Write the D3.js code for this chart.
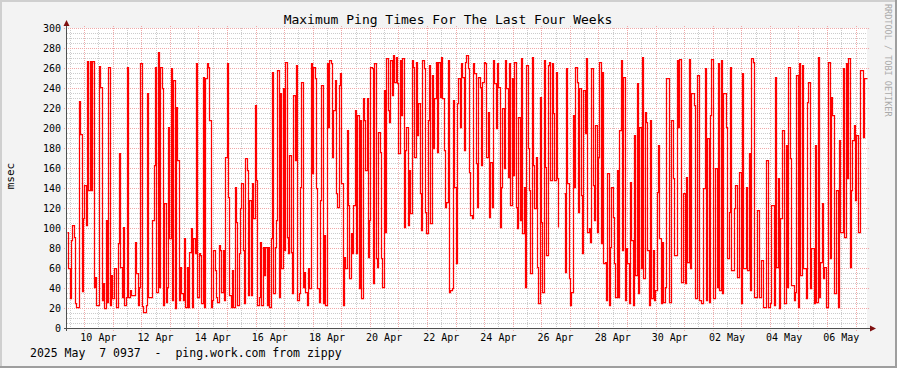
<!DOCTYPE html>
<html><head><meta charset="utf-8">
<script src="https://cdn.jsdelivr.net/npm/d3@7/dist/d3.min.js"></script>
<style>
html,body{margin:0;padding:0;background:#f3f3f3;}
svg{display:block;}
text{font-family:"DejaVu Sans Mono",monospace;}
</style></head><body>
<svg id="chart" width="897" height="368"></svg>
<script>
// ---- text ----
const chartTitle = "Maximum Ping Times For The Last Four Weeks";
const yAxisLabel = "msec";
const footerText = "2025 May  7 0937  -  ping.work.com from zippy";
const creditText = "RRDTOOL / TOBI OETIKER";

// ---- time range ----
const startTime = "2025-04-09T09:37:00Z";
const endTime   = "2025-05-07T09:37:00Z";

// ---- axis ticks ----
const yTickValues = [0,20,40,60,80,100,120,140,160,180,200,220,240,260,280,300];
const xTickDates  = ["2025-04-10","2025-04-12","2025-04-14","2025-04-16","2025-04-18","2025-04-20","2025-04-22",
                     "2025-04-24","2025-04-26","2025-04-28","2025-04-30","2025-05-02","2025-05-04","2025-05-06"];
const xTickLabels = ["10 Apr","12 Apr","14 Apr","16 Apr","18 Apr","20 Apr","22 Apr",
                     "24 Apr","26 Apr","28 Apr","30 Apr","02 May","04 May","06 May"];

// ---- series: maximum ping (msec), consecutive samples, in chronological blocks ----
const pingApr09to12 = [96,60,30,88,103,91,25,21,21,227,194,37,110,143,103,267,138,267,138,267,41,51,23,23,262,241,28,45,20,108,26,261,23,53,30,60,60,21,85,175,61,31,101,23,31,261,31,38,33,33,33,86,55,23,41,265,22,16,16,23,235,31,31,31,108,163,261,36,276,41,261,240,23,125,26];
const pingApr12to16 = [41,201,90,260,28,248,20,221,168,28,61,35,28,90,21,61,21,76,100,21,90,75,265,31,75,73,25,251,21,250,265,261,208,21,28,78,58,31,26,83,78,36,78,28,171,265,131,33,21,58,21,141,106,23,75,120,145,78,25,170,158,33,128,33,145,110,223,148,23,31,86,23,81,53,81];
const pingApr16to19 = [23,81,21,90,256,35,81,108,258,31,235,60,240,78,266,91,75,173,76,35,233,168,263,28,35,141,246,41,56,36,23,60,40,265,155,261,250,140,40,26,128,243,25,93,23,265,201,268,265,171,218,248,135,121,243,255,145,23,71,60,198,123,50,95,75,123,218,75,213,40,208,30,230,208,158];
const pingApr19to23 = [230,71,108,261,260,45,265,70,61,196,176,70,41,238,96,270,218,206,268,233,273,246,271,245,175,268,213,270,101,178,201,103,158,115,268,261,171,266,193,225,135,98,268,260,116,95,208,263,105,253,180,230,266,176,266,231,271,230,178,121,126,268,36,38,40,228,141,65,225,250,201,265,251,178,266];
const pingApr23to26 = [273,260,156,113,110,265,255,165,121,251,241,163,246,266,265,171,216,111,166,121,268,245,200,265,241,101,141,220,160,268,240,151,265,123,250,153,266,121,100,211,108,270,95,141,41,263,180,138,55,271,163,120,171,61,25,231,106,36,268,161,73,263,266,148,265,215,148,256,150,101,null,null,null,135,56];
const pingApr26to30 = [260,145,50,23,36,213,141,261,246,116,240,133,75,238,195,270,96,100,86,260,143,108,203,96,171,266,85,256,65,66,28,155,23,81,141,111,65,31,158,31,198,268,78,251,28,80,65,25,146,88,23,193,53,245,35,201,60,271,50,216,206,78,23,208,30,78,28,38,136,183,90,25,86,26,41];
const pingApr30toMay03 = [250,250,26,26,208,150,73,73,268,201,269,46,46,135,45,151,66,269,60,235,235,223,30,253,253,28,25,25,140,260,28,190,26,213,269,30,30,160,41,265,38,268,35,235,235,201,70,116,261,58,58,120,143,51,51,156,25,255,60,60,141,58,175,38,270,266,31,31,118,118,31,68,68,21,21];
const pingMay03to07 = [168,168,21,25,123,123,23,251,61,150,20,110,198,198,25,183,41,261,170,43,43,28,36,253,21,265,53,263,60,60,30,226,246,40,80,80,25,183,26,271,31,66,125,50,61,21,21,266,70,231,213,35,35,138,21,188,96,96,260,91,265,150,270,61,138,188,203,128,193,96,96,258,258,191,250,250];

const pingValues = [].concat(pingApr09to12, pingApr12to16, pingApr16to19, pingApr19to23,
                             pingApr23to26, pingApr26to30, pingApr30toMay03, pingMay03to07);

// ---- layout ----
const W = 897, H = 368;
const plot = {left: 67, right: 867, top: 28, bottom: 328};

const svg = d3.select("#chart");
const t0 = new Date(startTime), t1 = new Date(endTime);
const x = d3.scaleUtc().domain([t0, t1]).range([plot.left, plot.right]);
const y = d3.scaleLinear().domain([0, 300]).range([plot.bottom, plot.top]);

// background + 3D shade
svg.append("rect").attr("width", W).attr("height", H).attr("fill", "#f3f3f3");
svg.append("rect").attr("x",0).attr("y",0).attr("width",W).attr("height",2).attr("fill","#cfcfcf");
svg.append("rect").attr("x",0).attr("y",0).attr("width",2).attr("height",H).attr("fill","#cfcfcf");
svg.append("rect").attr("x",0).attr("y",H-2).attr("width",W).attr("height",2).attr("fill","#9e9e9e");
svg.append("rect").attr("x",W-2).attr("y",0).attr("width",2).attr("height",H).attr("fill","#9e9e9e");

// canvas
svg.append("rect").attr("x", plot.left).attr("y", plot.top)
   .attr("width", plot.right - plot.left).attr("height", plot.bottom - plot.top).attr("fill", "#ffffff");

const grid = svg.append("g").attr("shape-rendering", "crispEdges");
// minor horizontal grid every 5 msec
const minorY = d3.range(0, 301, 5).filter(v => v % 20 !== 0);
grid.selectAll(".hmin").data(minorY).join("line")
  .attr("x1", plot.left).attr("x2", plot.right)
  .attr("y1", d => Math.round(y(d)) + 0.5).attr("y2", d => Math.round(y(d)) + 0.5)
  .attr("stroke", "#cccccc").attr("stroke-dasharray", "1,1");
// minor vertical grid every 12 hours
const minorX = d3.utcHour.every(12).range(t0, t1).filter(d => d.getUTCHours() !== 0);
grid.selectAll(".vmin").data(minorX).join("line")
  .attr("y1", plot.top).attr("y2", plot.bottom)
  .attr("x1", d => Math.round(x(d)) + 0.5).attr("x2", d => Math.round(x(d)) + 0.5)
  .attr("stroke", "#cccccc").attr("stroke-dasharray", "1,1");
// major horizontal grid
grid.selectAll(".hmaj").data(yTickValues).join("line")
  .attr("x1", plot.left - 3).attr("x2", plot.right + 2)
  .attr("y1", d => Math.round(y(d)) + 0.5).attr("y2", d => Math.round(y(d)) + 0.5)
  .attr("stroke", "#f0a8a8").attr("stroke-dasharray", "1,1");
// major vertical grid every day
const majorX = d3.utcDay.range(t0, t1);
grid.selectAll(".vmaj").data(majorX).join("line")
  .attr("y1", plot.top - 2).attr("y2", plot.bottom + 3)
  .attr("x1", d => Math.round(x(d)) + 0.5).attr("x2", d => Math.round(x(d)) + 0.5)
  .attr("stroke", "#f0a8a8").attr("stroke-dasharray", "1,1");

// data line
const stepMs = (t1 - t0) / pingValues.length;
const pts = pingValues.map((v, i) => ({t: new Date(+t0 + i * stepMs), v}));
pts.push({t: t1, v: pingValues[pingValues.length - 1]});
const line = d3.line()
  .defined(d => d.v != null)
  .x(d => Math.round(x(d.t)) + 0.5).y(d => Math.round(y(d.v)) + 0.5)
  .curve(d3.curveStepAfter);
svg.append("path").datum(pts).attr("d", line)
  .attr("fill", "none").attr("stroke", "#ff0000").attr("stroke-width", 1.25)
  .attr("stroke-linejoin", "miter");

// axes lines
const axisG = svg.append("g").attr("shape-rendering", "crispEdges");
axisG.append("line").attr("x1", plot.left - 3).attr("x2", plot.right + 4)
  .attr("y1", plot.bottom + 0.5).attr("y2", plot.bottom + 0.5).attr("stroke", "#505050");
axisG.append("line").attr("x1", plot.left - 0.5).attr("x2", plot.left - 0.5)
  .attr("y1", plot.bottom + 3).attr("y2", plot.top - 4).attr("stroke", "#505050");
// arrows
svg.append("path")
  .attr("d", `M${plot.left - 3.5},${plot.top - 2} L${plot.left + 2.5},${plot.top - 2} L${plot.left - 0.5},${plot.top - 8} Z`)
  .attr("fill", "#7f1010");
svg.append("path")
  .attr("d", `M${plot.right + 3},${plot.bottom - 2.5} L${plot.right + 3},${plot.bottom + 3.5} L${plot.right + 9},${plot.bottom + 0.5} Z`)
  .attr("fill", "#7f1010");

// y tick labels
svg.append("g").selectAll("text").data(yTickValues).join("text")
  .attr("x", 61).attr("y", d => y(d) + 3.5)
  .attr("text-anchor", "end").attr("font-size", "10px").attr("fill", "#000")
  .text(d => d);

// x tick labels (centred at midday)
svg.append("g").selectAll("text").data(xTickDates).join("text")
  .attr("x", d => x(d3.utcHour.offset(new Date(d + "T00:00:00Z"), 12)))
  .attr("y", 341)
  .attr("text-anchor", "middle").attr("font-size", "10px").attr("fill", "#000")
  .text((d, i) => xTickLabels[i]);

// title
svg.append("text").attr("x", 448).attr("y", 24).attr("text-anchor", "middle")
  .attr("font-size", "13px").attr("fill", "#000").text(chartTitle);

// y label
svg.append("text").attr("transform", "translate(14,176) rotate(-90)")
  .attr("text-anchor", "middle").attr("font-size", "11px").attr("fill", "#000").text(yAxisLabel);

// footer
svg.append("text").attr("x", 30).attr("y", 357).attr("font-size", "11.5px")
  .attr("fill", "#000").style("white-space", "pre").text(footerText);

// credit
svg.append("text").attr("transform", "translate(885,4) rotate(90)")
  .attr("font-size", "8.5px").attr("fill", "#aaaaaa").text(creditText);
</script>
</body></html>
